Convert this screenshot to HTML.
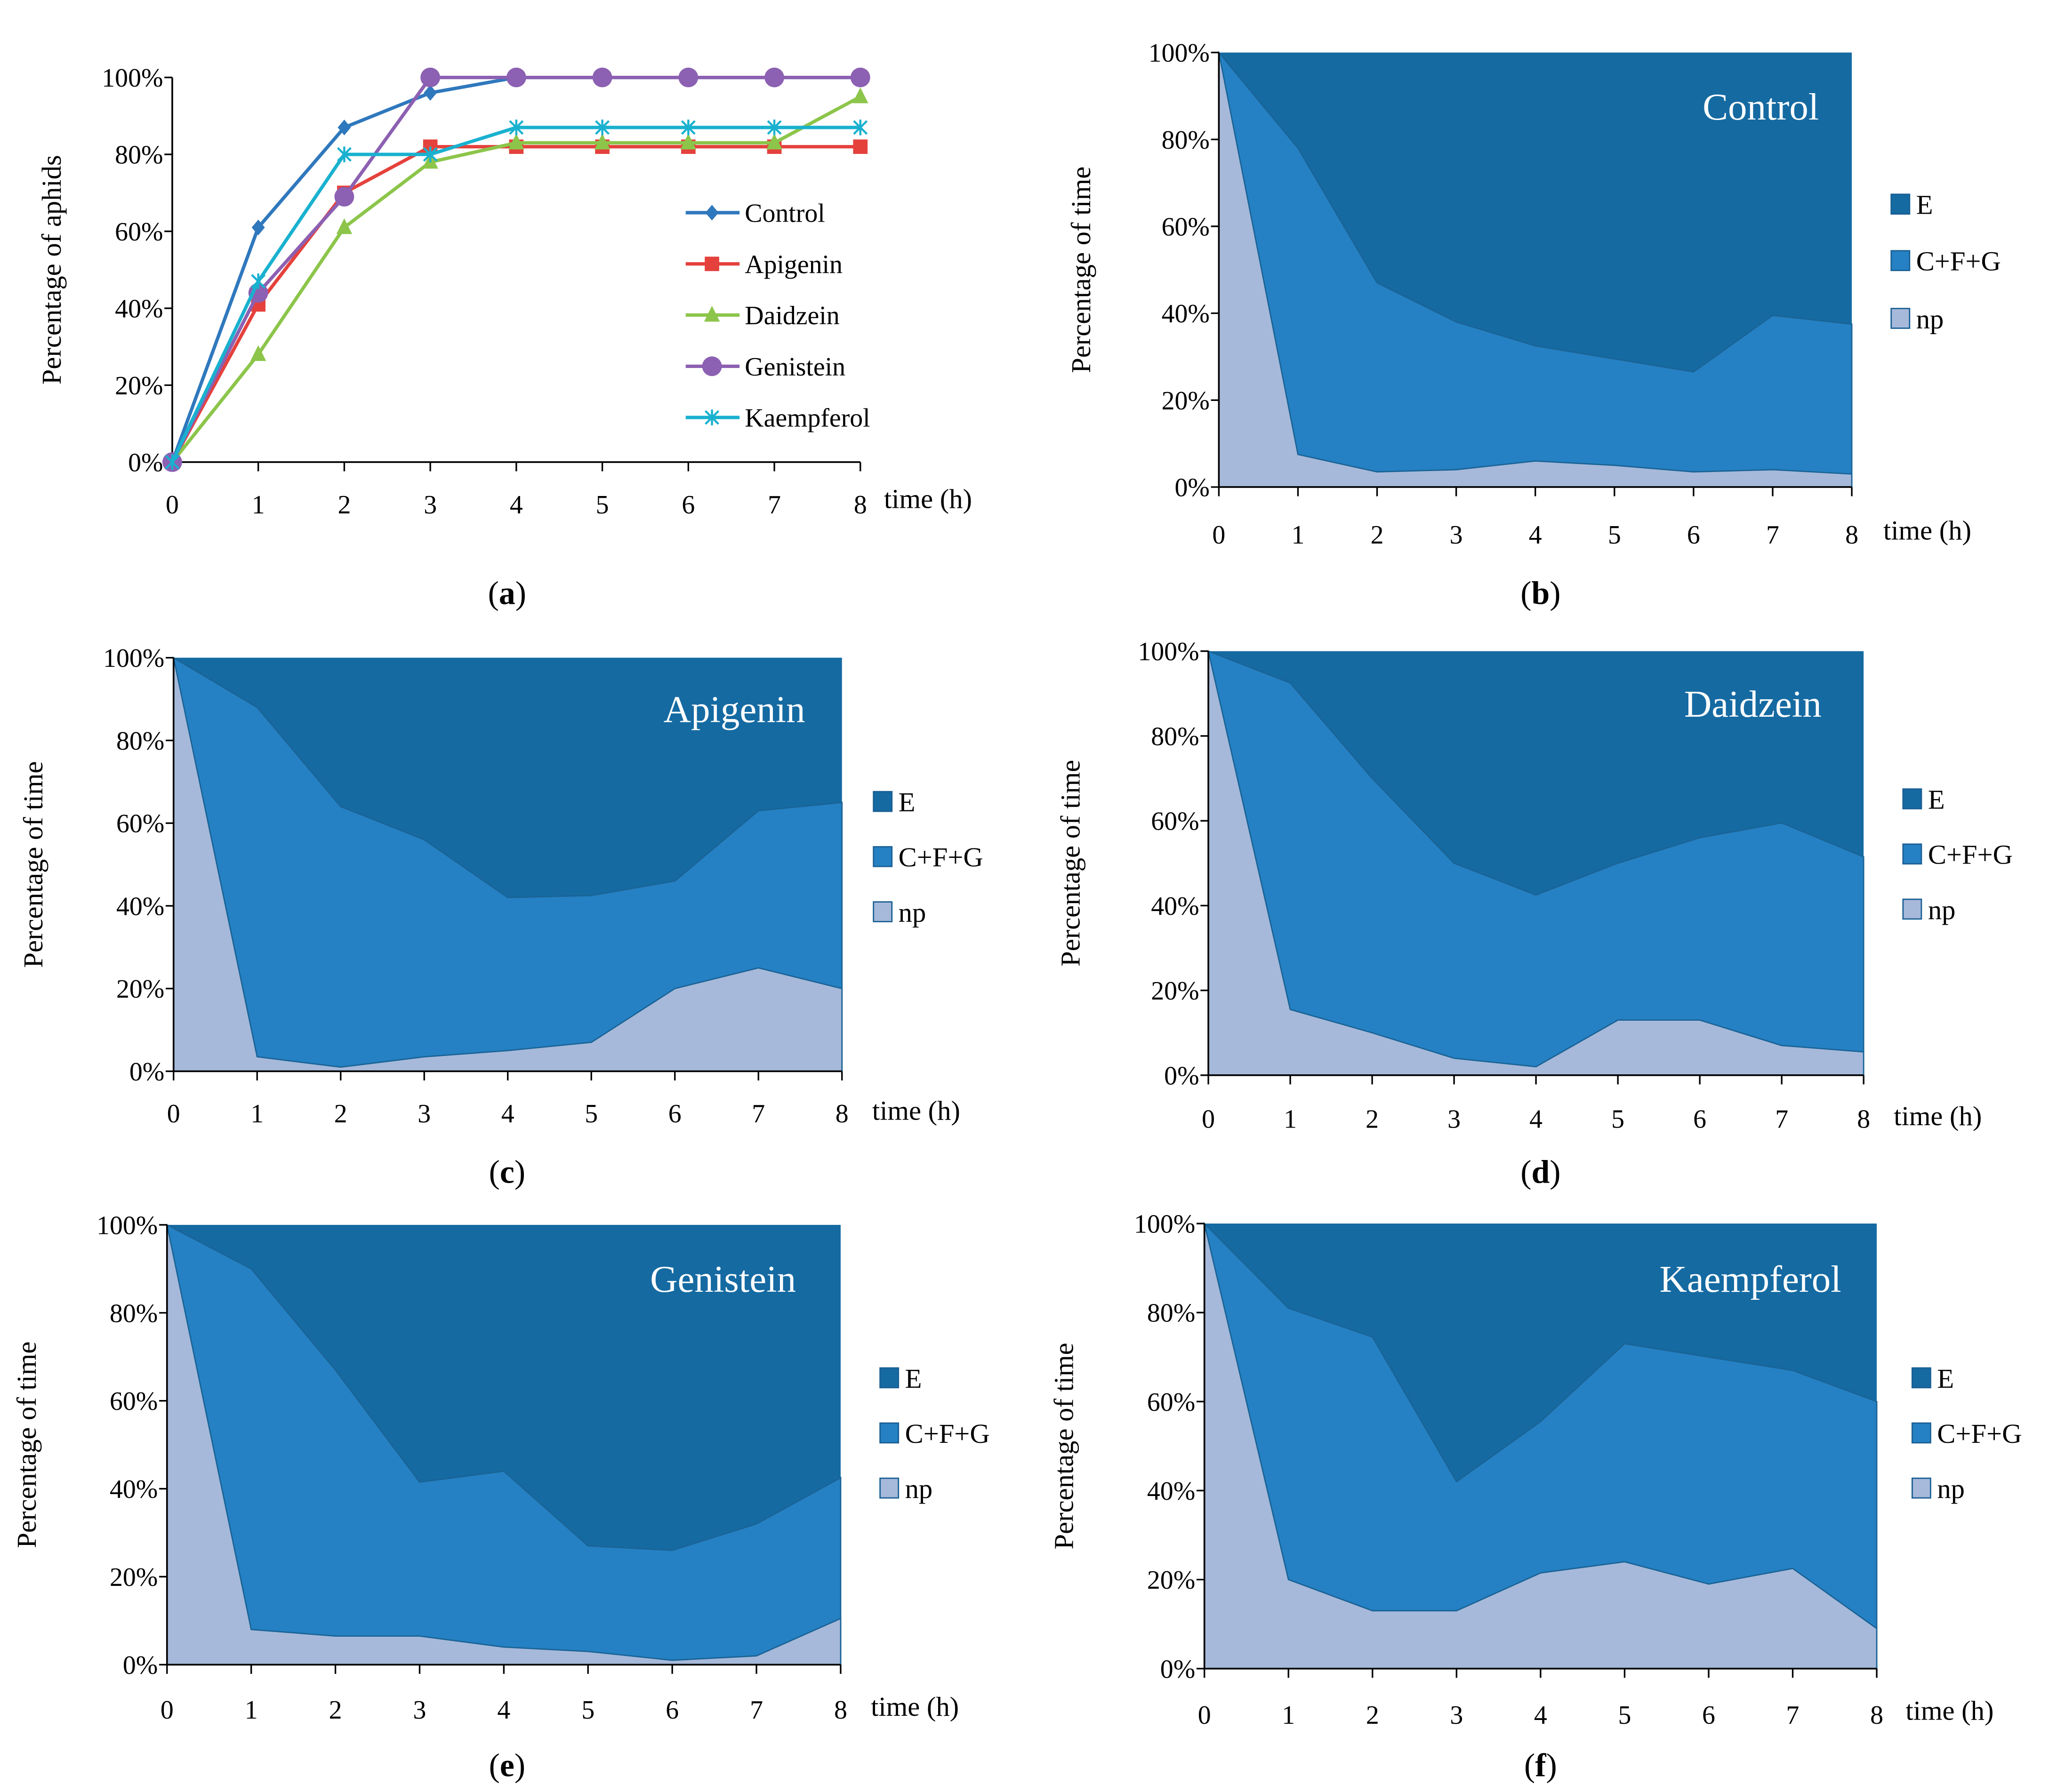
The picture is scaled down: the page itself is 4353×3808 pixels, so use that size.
<!DOCTYPE html>
<html><head><meta charset="utf-8"><style>
html,body{margin:0;padding:0;background:#fff}
svg{display:block;font-family:"Liberation Serif",serif}
svg text{font-family:"Liberation Serif",serif}
</style></head><body>
<svg id="fig" width="4353" height="3808" viewBox="0 0 1560 1365" font-family="Liberation Serif, serif" xmlns="http://www.w3.org/2000/svg"></svg>
<script>
const hours=[0,1,2,3,4,5,6,7,8];
const yTicks=[0,20,40,60,80,100];
const lineSeriesNames=["Control","Apigenin","Daidzein","Genistein","Kaempferol"];
const controlVals=[0,61,87,96,100,100,100,100,100];
const apigeninVals=[0,41,70,82,82,82,82,82,82];
const daidzeinVals=[0,28,61,78,83,83,83,83,95];
const genisteinVals=[0,44,69,100,100,100,100,100,100];
const kaempferolVals=[0,47,80,80,87,87,87,87,87];
const areaLegend=["E","C+F+G","np"];
const controlNp=[100,7.5,3.5,4,6,5,3.5,4,3];
const controlTop=[100,78,47,38,32.5,29.5,26.5,39.5,37.5];
const apigeninNp=[100,3.5,1,3.5,5,7,20,25,20];
const apigeninTop=[100,88,64,56,42,42.5,46,63,65];
const daidzeinNp=[100,15.5,10,4,2,13,13,7,5.5];
const daidzeinTop=[100,92.5,70,50,42.5,50,56,59.5,51.5];
const genisteinNp=[100,8,6.5,6.5,4,3,1,2,10.5];
const genisteinTop=[100,90,67,41.5,44,27,26,32,42.5];
const kaempferolNp=[100,20,13,13,21.5,24,19,22.5,9];
const kaempferolTop=[100,81,74.5,42,55.5,73,70,67,60];

const NS="http://www.w3.org/2000/svg";
const svg=document.getElementById('fig');
const FF='"Liberation Serif", serif';
function el(tag,attrs,parent,text){const e=document.createElementNS(NS,tag);for(const k in attrs)e.setAttribute(k,attrs[k]);if(tag==='text')e.setAttribute('font-family',FF);if(text!==undefined)e.textContent=text;(parent||svg).appendChild(e);return e;}

function axes(g,P,tickY,titleText,titleX,timeX,timeY,letter,letterX,letterY){
  const sx=v=>P.x0+(P.x8-P.x0)*v/8, sy=v=>P.y0+(P.y100-P.y0)*v/100;
  const ax=el('line',{x1:P.x0,y1:P.y0,x2:P.x0,y2:P.y100,stroke:'#000','stroke-width':1.3},g);
  
  const bx=el('line',{x1:P.x0,y1:P.y0,x2:P.x8,y2:P.y0,stroke:'#000','stroke-width':1.3},g);
  
  yTicks.forEach(t=>{
    el('line',{x1:P.x0-6,y1:sy(t),x2:P.x0,y2:sy(t),stroke:'#000','stroke-width':1.2},g);
    const tx=el('text',{x:P.x0-7,y:sy(t)+7,'text-anchor':'end','font-size':20},g,t+'%');
    
  });
  hours.forEach(h=>{
    el('line',{x1:sx(h),y1:P.y0,x2:sx(h),y2:P.y0+7,stroke:'#000','stroke-width':1.2},g);
    const tx=el('text',{x:sx(h),y:tickY,'text-anchor':'middle','font-size':20},g,String(h));
    
  });
  const yt=el('text',{x:titleX,y:(P.y0+P.y100)/2,'text-anchor':'middle','font-size':21,transform:`rotate(-90 ${titleX} ${(P.y0+P.y100)/2})`},g,titleText);
  
  const xt=el('text',{x:timeX,y:timeY,'font-size':21},g,'time (h)');
  
  const lt=el('text',{x:letterX,y:letterY,'text-anchor':'middle','font-size':25},g);
  
  el('tspan',{},lt,'(');el('tspan',{'font-weight':'bold'},lt,letter);el('tspan',{},lt,')');
  return {sx,sy};
}

// Panel a
(function(){
  const g=el('g',{});
  
  const P={x0:131,x8:655,y0:352,y100:59};
  const {sx,sy}=axes(g,P,391,'Percentage of aphids',46,673,387,'a',386,460);
  const series=[controlVals,apigeninVals,daidzeinVals,genisteinVals,kaempferolVals];
  const colors=['#2f78bd','#e5413c','#8cc54a','#8c60b2','#19b1cf'];
  const marks=['diamond','square','triangle','circle','star'];
  function marker(m,x,y,c,parent){
    let e;
    if(m==='diamond')e=el('path',{d:`M${x} ${y-6}L${x+5} ${y}L${x} ${y+6}L${x-5} ${y}Z`,fill:c},parent);
    else if(m==='square')e=el('rect',{x:x-5.5,y:y-5.5,width:11,height:11,fill:c},parent);
    else if(m==='triangle')e=el('path',{d:`M${x} ${y-7}L${x+6} ${y+5}L${x-6} ${y+5}Z`,fill:c},parent);
    else if(m==='circle')e=el('circle',{cx:x,cy:y,r:7.5,fill:c},parent);
    else e=el('path',{d:`M${x-5} ${y-5}L${x+5} ${y+5}M${x-5} ${y+5}L${x+5} ${y-5}M${x} ${y-6}L${x} ${y+6}`,stroke:c,'stroke-width':1.6,fill:'none'},parent);
    return e;
  }
  series.forEach((vals,i)=>{
    const sg=el('g',{},g);
    
    
    const pts=vals.map((v,j)=>sx(hours[j])+','+sy(v)).join(' ');
    el('polyline',{points:pts,fill:'none',stroke:colors[i],'stroke-width':2.6},sg);
    vals.forEach((v,j)=>{const m=marker(marks[i],sx(hours[j]),sy(v),colors[i],sg);
      });
    const ly=162+39*i;
    const lg=el('g',{},g);
    
    el('line',{x1:522,y1:ly,x2:563,y2:ly,stroke:colors[i],'stroke-width':2.6},lg);
    marker(marks[i],542,ly,colors[i],lg);
    el('text',{x:567,y:ly+7,'font-size':20},lg,lineSeriesNames[i]);
  });
})();

// Area panels
const areaPanels=[
 {np:controlNp,top:controlTop,name:'Control',letter:'b',P:{x0:928,x8:1410,y0:371,y100:40},tickY:414,tx:830,timeX:1434,timeY:411,lx:1173,ly:460,legX:1440,legY:[156,199,243],labX:1385,labY:91},
 {np:apigeninNp,top:apigeninTop,name:'Apigenin',letter:'c',P:{x0:132,x8:641,y0:816,y100:501},tickY:855,tx:32,timeX:664,timeY:853,lx:386,ly:901,legX:665,legY:611,labX:613,labY:550},
 {np:daidzeinNp,top:daidzeinTop,name:'Daidzein',letter:'d',P:{x0:920,x8:1419,y0:819,y100:496},tickY:859,tx:822,timeX:1442,timeY:857,lx:1173,ly:901,legX:1449,legY:609,labX:1387,labY:546},
 {np:genisteinNp,top:genisteinTop,name:'Genistein',letter:'e',P:{x0:127,x8:640,y0:1268,y100:933},tickY:1309,tx:27,timeX:663,timeY:1307,lx:386,ly:1353,legX:670,legY:1050,labX:606,labY:984},
 {np:kaempferolNp,top:kaempferolTop,name:'Kaempferol',letter:'f',P:{x0:917,x8:1429,y0:1271,y100:932},tickY:1313,tx:817,timeX:1451,timeY:1310,lx:1173,ly:1353,legX:1456,legY:1050,labX:1402,labY:984}
];
const areaColors=['#156aa2','#2581c3','#a6b9da'];
areaPanels.forEach(A=>{
  const g=el('g',{});
  
  const P=A.P;
  const sx=v=>P.x0+(P.x8-P.x0)*v/8, sy=v=>P.y0+(P.y100-P.y0)*v/100;
  const eA=el('path',{d:`M${sx(0)} ${sy(100)}L${sx(8)} ${sy(100)}L${sx(8)} ${sy(0)}L${sx(0)} ${sy(0)}Z`,fill:areaColors[0]},g);
  
  const topPts=A.top.map((v,j)=>`${sx(hours[j])} ${sy(v)}`);
  const cA=el('path',{d:'M'+topPts.join('L')+`L${sx(8)} ${sy(0)}L${sx(0)} ${sy(0)}Z`,fill:areaColors[1],stroke:'#1a6396','stroke-width':1},g);
  
  const npPts=A.np.map((v,j)=>`${sx(hours[j])} ${sy(v)}`);
  const nA=el('path',{d:'M'+npPts.join('L')+`L${sx(8)} ${sy(0)}L${sx(0)} ${sy(0)}Z`,fill:areaColors[2],stroke:'#1a6396','stroke-width':1},g);
  
  axes(g,P,A.tickY,'Percentage of time',A.tx,A.timeX,A.timeY,A.letter,A.lx,A.ly);
  const lab=el('text',{x:A.labX,y:A.labY,'text-anchor':'end','font-size':29,fill:'#fff'},g,A.name);
  
  const ys=Array.isArray(A.legY)?A.legY:[A.legY,A.legY+42,A.legY+84];
  areaLegend.forEach((n,i)=>{
    const lg=el('g',{},g);
    
    el('rect',{x:A.legX,y:ys[i]-8,width:14,height:15,fill:areaColors[i],stroke:'#1a5f94','stroke-width':1},lg);
    el('text',{x:A.legX+19,y:ys[i]+7,'font-size':21},lg,n);
  });
});
</script>
</body></html>
